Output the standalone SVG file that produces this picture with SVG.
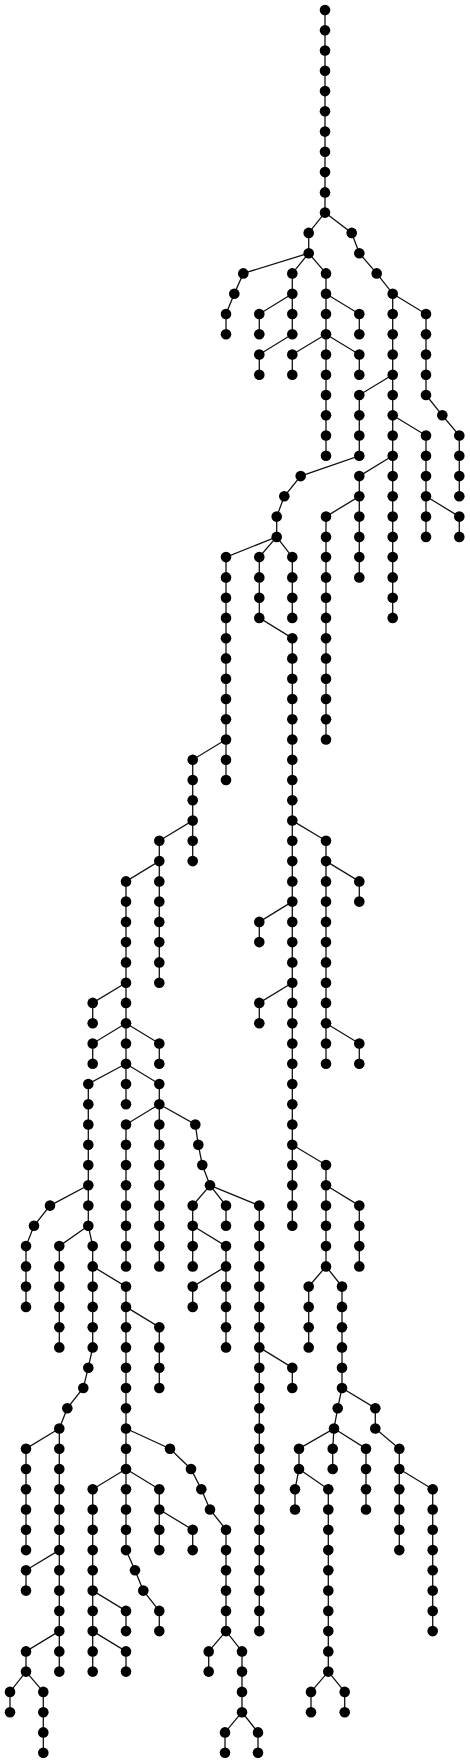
<svg xmlns="http://www.w3.org/2000/svg" width="470" height="1763" viewBox="0 0 470 1763">
<style>
.e path{fill:none;stroke:#111;stroke-width:1.3}
circle{fill:#000}
</style>
<rect width="470" height="1763" fill="#fff"/>
<g id="connectors" class="e">
<path d="M325 10 V212.6 L308.7 232.9 V253.2 L292.3 273.4 V334.2 L259.3 354.5 V374.8"/>
<path d="M308.7 253.2 L243.3 273.4 L234.3 293.7 L226 314 V334.2"/>
<path d="M308.7 253.2 L326 273.4 V455.8"/>
<path d="M292.3 293.7 L259.3 314 V334.2"/>
<path d="M326 293.7 L359.3 314 V334.2"/>
<path d="M326 334.2 L292.3 354.5 V374.8"/>
<path d="M326 334.2 L359.3 354.5 V374.8"/>
<path d="M325 212.6 L351.7 232.9 L359.3 253.2 L376.7 273.4 L392.7 293.7 V617.9"/>
<path d="M392.7 293.7 L426 314 V395 L442.3 415.3 L459.3 435.5 V496.3"/>
<path d="M392.7 374.8 L359.3 395 V455.8 L300.7 476.1 L284.3 496.3 L276.7 516.6 V536.9 L226 557.1 V739.5 L192.7 759.8 V820.6 L159.3 840.8 V861.1 L126 881.4 V1063.7 L88.3 1084 V1185.3"/>
<path d="M392.7 415.3 L426 435.5 V536.9"/>
<path d="M392.7 455.8 L359.3 476.1 V496.3 L326 516.6 V739.5"/>
<path d="M359.3 496.3 V577.4"/>
<path d="M426 496.3 L459.3 516.6 V536.9"/>
<path d="M276.7 536.9 L259.3 557.1 V617.9 L292.3 638.2 V1225.8"/>
<path d="M276.7 536.9 L292.3 557.1 V617.9"/>
<path d="M226 739.5 V780"/>
<path d="M192.7 820.6 V861.1"/>
<path d="M159.3 861.1 V982.7"/>
<path d="M292.3 820.6 L326 840.8 V1063.7"/>
<path d="M326 861.1 L359.3 881.4 V901.6"/>
<path d="M292.3 901.6 L259.3 921.9 V942.1"/>
<path d="M292.3 982.7 L259.3 1002.9 V1023.2"/>
<path d="M326 1023.2 L359.3 1043.5 V1063.7"/>
<path d="M292.3 1144.8 L326 1165 V1266.4 L308.7 1286.6 V1347.4"/>
<path d="M326 1185.3 L359.3 1205.6 V1266.4"/>
<path d="M326 1266.4 L342 1286.6 V1388 L337.7 1408.2 L334 1428.5 L299 1448.7 V1469 L295 1489.3 V1509.5"/>
<path d="M342 1388 L375.3 1408.2 V1428.5 L399.3 1448.7 V1550.1"/>
<path d="M334 1428.5 L332.7 1448.7 V1469"/>
<path d="M334 1428.5 L366 1448.7 V1509.5"/>
<path d="M299 1469 L328.3 1489.3 V1671.6 L311 1691.9 V1712.2"/>
<path d="M328.3 1671.6 L344.7 1691.9 V1712.2"/>
<path d="M399.3 1469 L432.7 1489.3 V1631.1"/>
<path d="M126 982.7 L92.7 1002.9 V1023.2"/>
<path d="M126 1023.2 L92.7 1043.5 V1063.7"/>
<path d="M126 1023.2 L159.3 1043.5 V1063.7"/>
<path d="M126 1063.7 V1104.3"/>
<path d="M126 1063.7 L159.3 1084 V1266.4"/>
<path d="M159.3 1104.3 L126 1124.5 V1266.4"/>
<path d="M159.3 1104.3 L195.3 1124.5 L198.3 1144.8 L202.3 1165 L210 1185.3 L192.7 1205.6 V1266.4"/>
<path d="M210 1185.3 L226 1205.6 V1225.8"/>
<path d="M210 1185.3 L259.3 1205.6 V1631.1"/>
<path d="M192.7 1225.8 L226 1246.1 V1347.4"/>
<path d="M226 1266.4 L192.7 1286.6 V1306.9"/>
<path d="M259.3 1347.4 L292.3 1367.7 V1388"/>
<path d="M88.3 1185.3 L50 1205.6 L34 1225.8 L26 1246.1 V1306.9"/>
<path d="M88.3 1185.3 V1225.8 L92.7 1246.1 V1347.4 L88.3 1367.7 L83.3 1388 L67.3 1408.2 L59.3 1428.5 V1671.6"/>
<path d="M88.3 1225.8 L59.3 1246.1 V1347.4"/>
<path d="M92.7 1266.4 L126 1286.6 V1550.1 L135 1570.3 L143.3 1590.6 L159.3 1610.9 V1631.1"/>
<path d="M126 1306.9 L159.3 1327.2 V1388"/>
<path d="M126 1428.5 L170 1448.7 L191 1469 L201.3 1489.3 L210 1509.5 L226 1529.8 V1631.1 L242 1651.4 V1712.2 L258 1732.4 V1752.7"/>
<path d="M226 1631.1 L208.7 1651.4 V1671.6"/>
<path d="M242 1712.2 L225 1732.4 V1752.7"/>
<path d="M126 1469 L92.7 1489.3 V1671.6"/>
<path d="M126 1469 L159.3 1489.3 V1550.1"/>
<path d="M159.3 1509.5 L192.7 1529.8 V1550.1"/>
<path d="M92.7 1590.6 L126 1610.9 V1631.1"/>
<path d="M92.7 1631.1 L126 1651.4 V1671.6"/>
<path d="M59.3 1428.5 L26 1448.7 V1550.1"/>
<path d="M59.3 1550.1 L26 1570.3 V1590.6"/>
<path d="M59.3 1631.1 L26 1651.4 V1671.6 L10 1691.9 V1712.2"/>
<path d="M26 1671.6 L43.3 1691.9 V1752.7"/>
</g>
<g id="nodes">
<g id="n1"><circle cx="325" cy="10" r="5.3"/></g>
<g id="n2"><circle cx="325" cy="30.3" r="5.3"/></g>
<g id="n3"><circle cx="325" cy="50.5" r="5.3"/></g>
<g id="n4"><circle cx="325" cy="70.8" r="5.3"/></g>
<g id="n5"><circle cx="325" cy="91.1" r="5.3"/></g>
<g id="n6"><circle cx="325" cy="111.3" r="5.3"/></g>
<g id="n7"><circle cx="325" cy="131.6" r="5.3"/></g>
<g id="n8"><circle cx="325" cy="151.8" r="5.3"/></g>
<g id="n9"><circle cx="325" cy="172.1" r="5.3"/></g>
<g id="n10"><circle cx="325" cy="192.4" r="5.3"/></g>
<g id="n11"><circle cx="325" cy="212.6" r="5.3"/></g>
<g id="n12"><circle cx="308.7" cy="232.9" r="5.3"/></g>
<g id="n13"><circle cx="308.7" cy="253.2" r="5.3"/></g>
<g id="n14"><circle cx="292.3" cy="273.4" r="5.3"/></g>
<g id="n15"><circle cx="292.3" cy="293.7" r="5.3"/></g>
<g id="n16"><circle cx="292.3" cy="314" r="5.3"/></g>
<g id="n17"><circle cx="292.3" cy="334.2" r="5.3"/></g>
<g id="n18"><circle cx="259.3" cy="354.5" r="5.3"/></g>
<g id="n19"><circle cx="259.3" cy="374.8" r="5.3"/></g>
<g id="n20"><circle cx="243.3" cy="273.4" r="5.3"/></g>
<g id="n21"><circle cx="234.3" cy="293.7" r="5.3"/></g>
<g id="n22"><circle cx="226" cy="314" r="5.3"/></g>
<g id="n23"><circle cx="226" cy="334.2" r="5.3"/></g>
<g id="n24"><circle cx="326" cy="273.4" r="5.3"/></g>
<g id="n25"><circle cx="326" cy="293.7" r="5.3"/></g>
<g id="n26"><circle cx="326" cy="314" r="5.3"/></g>
<g id="n27"><circle cx="326" cy="334.2" r="5.3"/></g>
<g id="n28"><circle cx="326" cy="354.5" r="5.3"/></g>
<g id="n29"><circle cx="326" cy="374.8" r="5.3"/></g>
<g id="n30"><circle cx="326" cy="395" r="5.3"/></g>
<g id="n31"><circle cx="326" cy="415.3" r="5.3"/></g>
<g id="n32"><circle cx="326" cy="435.5" r="5.3"/></g>
<g id="n33"><circle cx="326" cy="455.8" r="5.3"/></g>
<g id="n34"><circle cx="259.3" cy="314" r="5.3"/></g>
<g id="n35"><circle cx="259.3" cy="334.2" r="5.3"/></g>
<g id="n36"><circle cx="359.3" cy="314" r="5.3"/></g>
<g id="n37"><circle cx="359.3" cy="334.2" r="5.3"/></g>
<g id="n38"><circle cx="292.3" cy="354.5" r="5.3"/></g>
<g id="n39"><circle cx="292.3" cy="374.8" r="5.3"/></g>
<g id="n40"><circle cx="359.3" cy="354.5" r="5.3"/></g>
<g id="n41"><circle cx="359.3" cy="374.8" r="5.3"/></g>
<g id="n42"><circle cx="351.7" cy="232.9" r="5.3"/></g>
<g id="n43"><circle cx="359.3" cy="253.2" r="5.3"/></g>
<g id="n44"><circle cx="376.7" cy="273.4" r="5.3"/></g>
<g id="n45"><circle cx="392.7" cy="293.7" r="5.3"/></g>
<g id="n46"><circle cx="392.7" cy="314" r="5.3"/></g>
<g id="n47"><circle cx="392.7" cy="334.2" r="5.3"/></g>
<g id="n48"><circle cx="392.7" cy="354.5" r="5.3"/></g>
<g id="n49"><circle cx="392.7" cy="374.8" r="5.3"/></g>
<g id="n50"><circle cx="392.7" cy="395" r="5.3"/></g>
<g id="n51"><circle cx="392.7" cy="415.3" r="5.3"/></g>
<g id="n52"><circle cx="392.7" cy="435.5" r="5.3"/></g>
<g id="n53"><circle cx="392.7" cy="455.8" r="5.3"/></g>
<g id="n54"><circle cx="392.7" cy="476.1" r="5.3"/></g>
<g id="n55"><circle cx="392.7" cy="496.3" r="5.3"/></g>
<g id="n56"><circle cx="392.7" cy="516.6" r="5.3"/></g>
<g id="n57"><circle cx="392.7" cy="536.9" r="5.3"/></g>
<g id="n58"><circle cx="392.7" cy="557.1" r="5.3"/></g>
<g id="n59"><circle cx="392.7" cy="577.4" r="5.3"/></g>
<g id="n60"><circle cx="392.7" cy="597.7" r="5.3"/></g>
<g id="n61"><circle cx="392.7" cy="617.9" r="5.3"/></g>
<g id="n62"><circle cx="426" cy="314" r="5.3"/></g>
<g id="n63"><circle cx="426" cy="334.2" r="5.3"/></g>
<g id="n64"><circle cx="426" cy="354.5" r="5.3"/></g>
<g id="n65"><circle cx="426" cy="374.8" r="5.3"/></g>
<g id="n66"><circle cx="426" cy="395" r="5.3"/></g>
<g id="n67"><circle cx="442.3" cy="415.3" r="5.3"/></g>
<g id="n68"><circle cx="459.3" cy="435.5" r="5.3"/></g>
<g id="n69"><circle cx="459.3" cy="455.8" r="5.3"/></g>
<g id="n70"><circle cx="459.3" cy="476.1" r="5.3"/></g>
<g id="n71"><circle cx="459.3" cy="496.3" r="5.3"/></g>
<g id="n72"><circle cx="359.3" cy="395" r="5.3"/></g>
<g id="n73"><circle cx="359.3" cy="415.3" r="5.3"/></g>
<g id="n74"><circle cx="359.3" cy="435.5" r="5.3"/></g>
<g id="n75"><circle cx="359.3" cy="455.8" r="5.3"/></g>
<g id="n76"><circle cx="300.7" cy="476.1" r="5.3"/></g>
<g id="n77"><circle cx="284.3" cy="496.3" r="5.3"/></g>
<g id="n78"><circle cx="276.7" cy="516.6" r="5.3"/></g>
<g id="n79"><circle cx="276.7" cy="536.9" r="5.3"/></g>
<g id="n80"><circle cx="226" cy="557.1" r="5.3"/></g>
<g id="n81"><circle cx="226" cy="577.4" r="5.3"/></g>
<g id="n82"><circle cx="226" cy="597.7" r="5.3"/></g>
<g id="n83"><circle cx="226" cy="617.9" r="5.3"/></g>
<g id="n84"><circle cx="226" cy="638.2" r="5.3"/></g>
<g id="n85"><circle cx="226" cy="658.4" r="5.3"/></g>
<g id="n86"><circle cx="226" cy="678.7" r="5.3"/></g>
<g id="n87"><circle cx="226" cy="699" r="5.3"/></g>
<g id="n88"><circle cx="226" cy="719.2" r="5.3"/></g>
<g id="n89"><circle cx="226" cy="739.5" r="5.3"/></g>
<g id="n90"><circle cx="192.7" cy="759.8" r="5.3"/></g>
<g id="n91"><circle cx="192.7" cy="780" r="5.3"/></g>
<g id="n92"><circle cx="192.7" cy="800.3" r="5.3"/></g>
<g id="n93"><circle cx="192.7" cy="820.6" r="5.3"/></g>
<g id="n94"><circle cx="159.3" cy="840.8" r="5.3"/></g>
<g id="n95"><circle cx="159.3" cy="861.1" r="5.3"/></g>
<g id="n96"><circle cx="126" cy="881.4" r="5.3"/></g>
<g id="n97"><circle cx="126" cy="901.6" r="5.3"/></g>
<g id="n98"><circle cx="126" cy="921.9" r="5.3"/></g>
<g id="n99"><circle cx="126" cy="942.1" r="5.3"/></g>
<g id="n100"><circle cx="126" cy="962.4" r="5.3"/></g>
<g id="n101"><circle cx="126" cy="982.7" r="5.3"/></g>
<g id="n102"><circle cx="126" cy="1002.9" r="5.3"/></g>
<g id="n103"><circle cx="126" cy="1023.2" r="5.3"/></g>
<g id="n104"><circle cx="126" cy="1043.5" r="5.3"/></g>
<g id="n105"><circle cx="126" cy="1063.7" r="5.3"/></g>
<g id="n106"><circle cx="88.3" cy="1084" r="5.3"/></g>
<g id="n107"><circle cx="88.3" cy="1104.3" r="5.3"/></g>
<g id="n108"><circle cx="88.3" cy="1124.5" r="5.3"/></g>
<g id="n109"><circle cx="88.3" cy="1144.8" r="5.3"/></g>
<g id="n110"><circle cx="88.3" cy="1165" r="5.3"/></g>
<g id="n111"><circle cx="88.3" cy="1185.3" r="5.3"/></g>
<g id="n112"><circle cx="426" cy="435.5" r="5.3"/></g>
<g id="n113"><circle cx="426" cy="455.8" r="5.3"/></g>
<g id="n114"><circle cx="426" cy="476.1" r="5.3"/></g>
<g id="n115"><circle cx="426" cy="496.3" r="5.3"/></g>
<g id="n116"><circle cx="426" cy="516.6" r="5.3"/></g>
<g id="n117"><circle cx="426" cy="536.9" r="5.3"/></g>
<g id="n118"><circle cx="359.3" cy="476.1" r="5.3"/></g>
<g id="n119"><circle cx="359.3" cy="496.3" r="5.3"/></g>
<g id="n120"><circle cx="326" cy="516.6" r="5.3"/></g>
<g id="n121"><circle cx="326" cy="536.9" r="5.3"/></g>
<g id="n122"><circle cx="326" cy="557.1" r="5.3"/></g>
<g id="n123"><circle cx="326" cy="577.4" r="5.3"/></g>
<g id="n124"><circle cx="326" cy="597.7" r="5.3"/></g>
<g id="n125"><circle cx="326" cy="617.9" r="5.3"/></g>
<g id="n126"><circle cx="326" cy="638.2" r="5.3"/></g>
<g id="n127"><circle cx="326" cy="658.4" r="5.3"/></g>
<g id="n128"><circle cx="326" cy="678.7" r="5.3"/></g>
<g id="n129"><circle cx="326" cy="699" r="5.3"/></g>
<g id="n130"><circle cx="326" cy="719.2" r="5.3"/></g>
<g id="n131"><circle cx="326" cy="739.5" r="5.3"/></g>
<g id="n132"><circle cx="359.3" cy="516.6" r="5.3"/></g>
<g id="n133"><circle cx="359.3" cy="536.9" r="5.3"/></g>
<g id="n134"><circle cx="359.3" cy="557.1" r="5.3"/></g>
<g id="n135"><circle cx="359.3" cy="577.4" r="5.3"/></g>
<g id="n136"><circle cx="459.3" cy="516.6" r="5.3"/></g>
<g id="n137"><circle cx="459.3" cy="536.9" r="5.3"/></g>
<g id="n138"><circle cx="259.3" cy="557.1" r="5.3"/></g>
<g id="n139"><circle cx="259.3" cy="577.4" r="5.3"/></g>
<g id="n140"><circle cx="259.3" cy="597.7" r="5.3"/></g>
<g id="n141"><circle cx="259.3" cy="617.9" r="5.3"/></g>
<g id="n142"><circle cx="292.3" cy="638.2" r="5.3"/></g>
<g id="n143"><circle cx="292.3" cy="658.4" r="5.3"/></g>
<g id="n144"><circle cx="292.3" cy="678.7" r="5.3"/></g>
<g id="n145"><circle cx="292.3" cy="699" r="5.3"/></g>
<g id="n146"><circle cx="292.3" cy="719.2" r="5.3"/></g>
<g id="n147"><circle cx="292.3" cy="739.5" r="5.3"/></g>
<g id="n148"><circle cx="292.3" cy="759.8" r="5.3"/></g>
<g id="n149"><circle cx="292.3" cy="780" r="5.3"/></g>
<g id="n150"><circle cx="292.3" cy="800.3" r="5.3"/></g>
<g id="n151"><circle cx="292.3" cy="820.6" r="5.3"/></g>
<g id="n152"><circle cx="292.3" cy="840.8" r="5.3"/></g>
<g id="n153"><circle cx="292.3" cy="861.1" r="5.3"/></g>
<g id="n154"><circle cx="292.3" cy="881.4" r="5.3"/></g>
<g id="n155"><circle cx="292.3" cy="901.6" r="5.3"/></g>
<g id="n156"><circle cx="292.3" cy="921.9" r="5.3"/></g>
<g id="n157"><circle cx="292.3" cy="942.1" r="5.3"/></g>
<g id="n158"><circle cx="292.3" cy="962.4" r="5.3"/></g>
<g id="n159"><circle cx="292.3" cy="982.7" r="5.3"/></g>
<g id="n160"><circle cx="292.3" cy="1002.9" r="5.3"/></g>
<g id="n161"><circle cx="292.3" cy="1023.2" r="5.3"/></g>
<g id="n162"><circle cx="292.3" cy="1043.5" r="5.3"/></g>
<g id="n163"><circle cx="292.3" cy="1063.7" r="5.3"/></g>
<g id="n164"><circle cx="292.3" cy="1084" r="5.3"/></g>
<g id="n165"><circle cx="292.3" cy="1104.3" r="5.3"/></g>
<g id="n166"><circle cx="292.3" cy="1124.5" r="5.3"/></g>
<g id="n167"><circle cx="292.3" cy="1144.8" r="5.3"/></g>
<g id="n168"><circle cx="292.3" cy="1165" r="5.3"/></g>
<g id="n169"><circle cx="292.3" cy="1185.3" r="5.3"/></g>
<g id="n170"><circle cx="292.3" cy="1205.6" r="5.3"/></g>
<g id="n171"><circle cx="292.3" cy="1225.8" r="5.3"/></g>
<g id="n172"><circle cx="292.3" cy="557.1" r="5.3"/></g>
<g id="n173"><circle cx="292.3" cy="577.4" r="5.3"/></g>
<g id="n174"><circle cx="292.3" cy="597.7" r="5.3"/></g>
<g id="n175"><circle cx="292.3" cy="617.9" r="5.3"/></g>
<g id="n176"><circle cx="226" cy="759.8" r="5.3"/></g>
<g id="n177"><circle cx="226" cy="780" r="5.3"/></g>
<g id="n178"><circle cx="192.7" cy="840.8" r="5.3"/></g>
<g id="n179"><circle cx="192.7" cy="861.1" r="5.3"/></g>
<g id="n180"><circle cx="159.3" cy="881.4" r="5.3"/></g>
<g id="n181"><circle cx="159.3" cy="901.6" r="5.3"/></g>
<g id="n182"><circle cx="159.3" cy="921.9" r="5.3"/></g>
<g id="n183"><circle cx="159.3" cy="942.1" r="5.3"/></g>
<g id="n184"><circle cx="159.3" cy="962.4" r="5.3"/></g>
<g id="n185"><circle cx="159.3" cy="982.7" r="5.3"/></g>
<g id="n186"><circle cx="326" cy="840.8" r="5.3"/></g>
<g id="n187"><circle cx="326" cy="861.1" r="5.3"/></g>
<g id="n188"><circle cx="326" cy="881.4" r="5.3"/></g>
<g id="n189"><circle cx="326" cy="901.6" r="5.3"/></g>
<g id="n190"><circle cx="326" cy="921.9" r="5.3"/></g>
<g id="n191"><circle cx="326" cy="942.1" r="5.3"/></g>
<g id="n192"><circle cx="326" cy="962.4" r="5.3"/></g>
<g id="n193"><circle cx="326" cy="982.7" r="5.3"/></g>
<g id="n194"><circle cx="326" cy="1002.9" r="5.3"/></g>
<g id="n195"><circle cx="326" cy="1023.2" r="5.3"/></g>
<g id="n196"><circle cx="326" cy="1043.5" r="5.3"/></g>
<g id="n197"><circle cx="326" cy="1063.7" r="5.3"/></g>
<g id="n198"><circle cx="359.3" cy="881.4" r="5.3"/></g>
<g id="n199"><circle cx="359.3" cy="901.6" r="5.3"/></g>
<g id="n200"><circle cx="259.3" cy="921.9" r="5.3"/></g>
<g id="n201"><circle cx="259.3" cy="942.1" r="5.3"/></g>
<g id="n202"><circle cx="259.3" cy="1002.9" r="5.3"/></g>
<g id="n203"><circle cx="259.3" cy="1023.2" r="5.3"/></g>
<g id="n204"><circle cx="359.3" cy="1043.5" r="5.3"/></g>
<g id="n205"><circle cx="359.3" cy="1063.7" r="5.3"/></g>
<g id="n206"><circle cx="326" cy="1165" r="5.3"/></g>
<g id="n207"><circle cx="326" cy="1185.3" r="5.3"/></g>
<g id="n208"><circle cx="326" cy="1205.6" r="5.3"/></g>
<g id="n209"><circle cx="326" cy="1225.8" r="5.3"/></g>
<g id="n210"><circle cx="326" cy="1246.1" r="5.3"/></g>
<g id="n211"><circle cx="326" cy="1266.4" r="5.3"/></g>
<g id="n212"><circle cx="308.7" cy="1286.6" r="5.3"/></g>
<g id="n213"><circle cx="308.7" cy="1306.9" r="5.3"/></g>
<g id="n214"><circle cx="308.7" cy="1327.2" r="5.3"/></g>
<g id="n215"><circle cx="308.7" cy="1347.4" r="5.3"/></g>
<g id="n216"><circle cx="359.3" cy="1205.6" r="5.3"/></g>
<g id="n217"><circle cx="359.3" cy="1225.8" r="5.3"/></g>
<g id="n218"><circle cx="359.3" cy="1246.1" r="5.3"/></g>
<g id="n219"><circle cx="359.3" cy="1266.4" r="5.3"/></g>
<g id="n220"><circle cx="342" cy="1286.6" r="5.3"/></g>
<g id="n221"><circle cx="342" cy="1306.9" r="5.3"/></g>
<g id="n222"><circle cx="342" cy="1327.2" r="5.3"/></g>
<g id="n223"><circle cx="342" cy="1347.4" r="5.3"/></g>
<g id="n224"><circle cx="342" cy="1367.7" r="5.3"/></g>
<g id="n225"><circle cx="342" cy="1388" r="5.3"/></g>
<g id="n226"><circle cx="337.7" cy="1408.2" r="5.3"/></g>
<g id="n227"><circle cx="334" cy="1428.5" r="5.3"/></g>
<g id="n228"><circle cx="299" cy="1448.7" r="5.3"/></g>
<g id="n229"><circle cx="299" cy="1469" r="5.3"/></g>
<g id="n230"><circle cx="295" cy="1489.3" r="5.3"/></g>
<g id="n231"><circle cx="295" cy="1509.5" r="5.3"/></g>
<g id="n232"><circle cx="375.3" cy="1408.2" r="5.3"/></g>
<g id="n233"><circle cx="375.3" cy="1428.5" r="5.3"/></g>
<g id="n234"><circle cx="399.3" cy="1448.7" r="5.3"/></g>
<g id="n235"><circle cx="399.3" cy="1469" r="5.3"/></g>
<g id="n236"><circle cx="399.3" cy="1489.3" r="5.3"/></g>
<g id="n237"><circle cx="399.3" cy="1509.5" r="5.3"/></g>
<g id="n238"><circle cx="399.3" cy="1529.8" r="5.3"/></g>
<g id="n239"><circle cx="399.3" cy="1550.1" r="5.3"/></g>
<g id="n240"><circle cx="332.7" cy="1448.7" r="5.3"/></g>
<g id="n241"><circle cx="332.7" cy="1469" r="5.3"/></g>
<g id="n242"><circle cx="366" cy="1448.7" r="5.3"/></g>
<g id="n243"><circle cx="366" cy="1469" r="5.3"/></g>
<g id="n244"><circle cx="366" cy="1489.3" r="5.3"/></g>
<g id="n245"><circle cx="366" cy="1509.5" r="5.3"/></g>
<g id="n246"><circle cx="328.3" cy="1489.3" r="5.3"/></g>
<g id="n247"><circle cx="328.3" cy="1509.5" r="5.3"/></g>
<g id="n248"><circle cx="328.3" cy="1529.8" r="5.3"/></g>
<g id="n249"><circle cx="328.3" cy="1550.1" r="5.3"/></g>
<g id="n250"><circle cx="328.3" cy="1570.3" r="5.3"/></g>
<g id="n251"><circle cx="328.3" cy="1590.6" r="5.3"/></g>
<g id="n252"><circle cx="328.3" cy="1610.9" r="5.3"/></g>
<g id="n253"><circle cx="328.3" cy="1631.1" r="5.3"/></g>
<g id="n254"><circle cx="328.3" cy="1651.4" r="5.3"/></g>
<g id="n255"><circle cx="328.3" cy="1671.6" r="5.3"/></g>
<g id="n256"><circle cx="311" cy="1691.9" r="5.3"/></g>
<g id="n257"><circle cx="311" cy="1712.2" r="5.3"/></g>
<g id="n258"><circle cx="344.7" cy="1691.9" r="5.3"/></g>
<g id="n259"><circle cx="344.7" cy="1712.2" r="5.3"/></g>
<g id="n260"><circle cx="432.7" cy="1489.3" r="5.3"/></g>
<g id="n261"><circle cx="432.7" cy="1509.5" r="5.3"/></g>
<g id="n262"><circle cx="432.7" cy="1529.8" r="5.3"/></g>
<g id="n263"><circle cx="432.7" cy="1550.1" r="5.3"/></g>
<g id="n264"><circle cx="432.7" cy="1570.3" r="5.3"/></g>
<g id="n265"><circle cx="432.7" cy="1590.6" r="5.3"/></g>
<g id="n266"><circle cx="432.7" cy="1610.9" r="5.3"/></g>
<g id="n267"><circle cx="432.7" cy="1631.1" r="5.3"/></g>
<g id="n268"><circle cx="92.7" cy="1002.9" r="5.3"/></g>
<g id="n269"><circle cx="92.7" cy="1023.2" r="5.3"/></g>
<g id="n270"><circle cx="92.7" cy="1043.5" r="5.3"/></g>
<g id="n271"><circle cx="92.7" cy="1063.7" r="5.3"/></g>
<g id="n272"><circle cx="159.3" cy="1043.5" r="5.3"/></g>
<g id="n273"><circle cx="159.3" cy="1063.7" r="5.3"/></g>
<g id="n274"><circle cx="126" cy="1084" r="5.3"/></g>
<g id="n275"><circle cx="126" cy="1104.3" r="5.3"/></g>
<g id="n276"><circle cx="159.3" cy="1084" r="5.3"/></g>
<g id="n277"><circle cx="159.3" cy="1104.3" r="5.3"/></g>
<g id="n278"><circle cx="159.3" cy="1124.5" r="5.3"/></g>
<g id="n279"><circle cx="159.3" cy="1144.8" r="5.3"/></g>
<g id="n280"><circle cx="159.3" cy="1165" r="5.3"/></g>
<g id="n281"><circle cx="159.3" cy="1185.3" r="5.3"/></g>
<g id="n282"><circle cx="159.3" cy="1205.6" r="5.3"/></g>
<g id="n283"><circle cx="159.3" cy="1225.8" r="5.3"/></g>
<g id="n284"><circle cx="159.3" cy="1246.1" r="5.3"/></g>
<g id="n285"><circle cx="159.3" cy="1266.4" r="5.3"/></g>
<g id="n286"><circle cx="126" cy="1124.5" r="5.3"/></g>
<g id="n287"><circle cx="126" cy="1144.8" r="5.3"/></g>
<g id="n288"><circle cx="126" cy="1165" r="5.3"/></g>
<g id="n289"><circle cx="126" cy="1185.3" r="5.3"/></g>
<g id="n290"><circle cx="126" cy="1205.6" r="5.3"/></g>
<g id="n291"><circle cx="126" cy="1225.8" r="5.3"/></g>
<g id="n292"><circle cx="126" cy="1246.1" r="5.3"/></g>
<g id="n293"><circle cx="126" cy="1266.4" r="5.3"/></g>
<g id="n294"><circle cx="195.3" cy="1124.5" r="5.3"/></g>
<g id="n295"><circle cx="198.3" cy="1144.8" r="5.3"/></g>
<g id="n296"><circle cx="202.3" cy="1165" r="5.3"/></g>
<g id="n297"><circle cx="210" cy="1185.3" r="5.3"/></g>
<g id="n298"><circle cx="192.7" cy="1205.6" r="5.3"/></g>
<g id="n299"><circle cx="192.7" cy="1225.8" r="5.3"/></g>
<g id="n300"><circle cx="192.7" cy="1246.1" r="5.3"/></g>
<g id="n301"><circle cx="192.7" cy="1266.4" r="5.3"/></g>
<g id="n302"><circle cx="226" cy="1205.6" r="5.3"/></g>
<g id="n303"><circle cx="226" cy="1225.8" r="5.3"/></g>
<g id="n304"><circle cx="259.3" cy="1205.6" r="5.3"/></g>
<g id="n305"><circle cx="259.3" cy="1225.8" r="5.3"/></g>
<g id="n306"><circle cx="259.3" cy="1246.1" r="5.3"/></g>
<g id="n307"><circle cx="259.3" cy="1266.4" r="5.3"/></g>
<g id="n308"><circle cx="259.3" cy="1286.6" r="5.3"/></g>
<g id="n309"><circle cx="259.3" cy="1306.9" r="5.3"/></g>
<g id="n310"><circle cx="259.3" cy="1327.2" r="5.3"/></g>
<g id="n311"><circle cx="259.3" cy="1347.4" r="5.3"/></g>
<g id="n312"><circle cx="259.3" cy="1367.7" r="5.3"/></g>
<g id="n313"><circle cx="259.3" cy="1388" r="5.3"/></g>
<g id="n314"><circle cx="259.3" cy="1408.2" r="5.3"/></g>
<g id="n315"><circle cx="259.3" cy="1428.5" r="5.3"/></g>
<g id="n316"><circle cx="259.3" cy="1448.7" r="5.3"/></g>
<g id="n317"><circle cx="259.3" cy="1469" r="5.3"/></g>
<g id="n318"><circle cx="259.3" cy="1489.3" r="5.3"/></g>
<g id="n319"><circle cx="259.3" cy="1509.5" r="5.3"/></g>
<g id="n320"><circle cx="259.3" cy="1529.8" r="5.3"/></g>
<g id="n321"><circle cx="259.3" cy="1550.1" r="5.3"/></g>
<g id="n322"><circle cx="259.3" cy="1570.3" r="5.3"/></g>
<g id="n323"><circle cx="259.3" cy="1590.6" r="5.3"/></g>
<g id="n324"><circle cx="259.3" cy="1610.9" r="5.3"/></g>
<g id="n325"><circle cx="259.3" cy="1631.1" r="5.3"/></g>
<g id="n326"><circle cx="226" cy="1246.1" r="5.3"/></g>
<g id="n327"><circle cx="226" cy="1266.4" r="5.3"/></g>
<g id="n328"><circle cx="226" cy="1286.6" r="5.3"/></g>
<g id="n329"><circle cx="226" cy="1306.9" r="5.3"/></g>
<g id="n330"><circle cx="226" cy="1327.2" r="5.3"/></g>
<g id="n331"><circle cx="226" cy="1347.4" r="5.3"/></g>
<g id="n332"><circle cx="192.7" cy="1286.6" r="5.3"/></g>
<g id="n333"><circle cx="192.7" cy="1306.9" r="5.3"/></g>
<g id="n334"><circle cx="292.3" cy="1367.7" r="5.3"/></g>
<g id="n335"><circle cx="292.3" cy="1388" r="5.3"/></g>
<g id="n336"><circle cx="50" cy="1205.6" r="5.3"/></g>
<g id="n337"><circle cx="34" cy="1225.8" r="5.3"/></g>
<g id="n338"><circle cx="26" cy="1246.1" r="5.3"/></g>
<g id="n339"><circle cx="26" cy="1266.4" r="5.3"/></g>
<g id="n340"><circle cx="26" cy="1286.6" r="5.3"/></g>
<g id="n341"><circle cx="26" cy="1306.9" r="5.3"/></g>
<g id="n342"><circle cx="88.3" cy="1205.6" r="5.3"/></g>
<g id="n343"><circle cx="88.3" cy="1225.8" r="5.3"/></g>
<g id="n344"><circle cx="92.7" cy="1246.1" r="5.3"/></g>
<g id="n345"><circle cx="92.7" cy="1266.4" r="5.3"/></g>
<g id="n346"><circle cx="92.7" cy="1286.6" r="5.3"/></g>
<g id="n347"><circle cx="92.7" cy="1306.9" r="5.3"/></g>
<g id="n348"><circle cx="92.7" cy="1327.2" r="5.3"/></g>
<g id="n349"><circle cx="92.7" cy="1347.4" r="5.3"/></g>
<g id="n350"><circle cx="88.3" cy="1367.7" r="5.3"/></g>
<g id="n351"><circle cx="83.3" cy="1388" r="5.3"/></g>
<g id="n352"><circle cx="67.3" cy="1408.2" r="5.3"/></g>
<g id="n353"><circle cx="59.3" cy="1428.5" r="5.3"/></g>
<g id="n354"><circle cx="59.3" cy="1448.7" r="5.3"/></g>
<g id="n355"><circle cx="59.3" cy="1469" r="5.3"/></g>
<g id="n356"><circle cx="59.3" cy="1489.3" r="5.3"/></g>
<g id="n357"><circle cx="59.3" cy="1509.5" r="5.3"/></g>
<g id="n358"><circle cx="59.3" cy="1529.8" r="5.3"/></g>
<g id="n359"><circle cx="59.3" cy="1550.1" r="5.3"/></g>
<g id="n360"><circle cx="59.3" cy="1570.3" r="5.3"/></g>
<g id="n361"><circle cx="59.3" cy="1590.6" r="5.3"/></g>
<g id="n362"><circle cx="59.3" cy="1610.9" r="5.3"/></g>
<g id="n363"><circle cx="59.3" cy="1631.1" r="5.3"/></g>
<g id="n364"><circle cx="59.3" cy="1651.4" r="5.3"/></g>
<g id="n365"><circle cx="59.3" cy="1671.6" r="5.3"/></g>
<g id="n366"><circle cx="59.3" cy="1246.1" r="5.3"/></g>
<g id="n367"><circle cx="59.3" cy="1266.4" r="5.3"/></g>
<g id="n368"><circle cx="59.3" cy="1286.6" r="5.3"/></g>
<g id="n369"><circle cx="59.3" cy="1306.9" r="5.3"/></g>
<g id="n370"><circle cx="59.3" cy="1327.2" r="5.3"/></g>
<g id="n371"><circle cx="59.3" cy="1347.4" r="5.3"/></g>
<g id="n372"><circle cx="126" cy="1286.6" r="5.3"/></g>
<g id="n373"><circle cx="126" cy="1306.9" r="5.3"/></g>
<g id="n374"><circle cx="126" cy="1327.2" r="5.3"/></g>
<g id="n375"><circle cx="126" cy="1347.4" r="5.3"/></g>
<g id="n376"><circle cx="126" cy="1367.7" r="5.3"/></g>
<g id="n377"><circle cx="126" cy="1388" r="5.3"/></g>
<g id="n378"><circle cx="126" cy="1408.2" r="5.3"/></g>
<g id="n379"><circle cx="126" cy="1428.5" r="5.3"/></g>
<g id="n380"><circle cx="126" cy="1448.7" r="5.3"/></g>
<g id="n381"><circle cx="126" cy="1469" r="5.3"/></g>
<g id="n382"><circle cx="126" cy="1489.3" r="5.3"/></g>
<g id="n383"><circle cx="126" cy="1509.5" r="5.3"/></g>
<g id="n384"><circle cx="126" cy="1529.8" r="5.3"/></g>
<g id="n385"><circle cx="126" cy="1550.1" r="5.3"/></g>
<g id="n386"><circle cx="135" cy="1570.3" r="5.3"/></g>
<g id="n387"><circle cx="143.3" cy="1590.6" r="5.3"/></g>
<g id="n388"><circle cx="159.3" cy="1610.9" r="5.3"/></g>
<g id="n389"><circle cx="159.3" cy="1631.1" r="5.3"/></g>
<g id="n390"><circle cx="159.3" cy="1327.2" r="5.3"/></g>
<g id="n391"><circle cx="159.3" cy="1347.4" r="5.3"/></g>
<g id="n392"><circle cx="159.3" cy="1367.7" r="5.3"/></g>
<g id="n393"><circle cx="159.3" cy="1388" r="5.3"/></g>
<g id="n394"><circle cx="170" cy="1448.7" r="5.3"/></g>
<g id="n395"><circle cx="191" cy="1469" r="5.3"/></g>
<g id="n396"><circle cx="201.3" cy="1489.3" r="5.3"/></g>
<g id="n397"><circle cx="210" cy="1509.5" r="5.3"/></g>
<g id="n398"><circle cx="226" cy="1529.8" r="5.3"/></g>
<g id="n399"><circle cx="226" cy="1550.1" r="5.3"/></g>
<g id="n400"><circle cx="226" cy="1570.3" r="5.3"/></g>
<g id="n401"><circle cx="226" cy="1590.6" r="5.3"/></g>
<g id="n402"><circle cx="226" cy="1610.9" r="5.3"/></g>
<g id="n403"><circle cx="226" cy="1631.1" r="5.3"/></g>
<g id="n404"><circle cx="242" cy="1651.4" r="5.3"/></g>
<g id="n405"><circle cx="242" cy="1671.6" r="5.3"/></g>
<g id="n406"><circle cx="242" cy="1691.9" r="5.3"/></g>
<g id="n407"><circle cx="242" cy="1712.2" r="5.3"/></g>
<g id="n408"><circle cx="258" cy="1732.4" r="5.3"/></g>
<g id="n409"><circle cx="258" cy="1752.7" r="5.3"/></g>
<g id="n410"><circle cx="208.7" cy="1651.4" r="5.3"/></g>
<g id="n411"><circle cx="208.7" cy="1671.6" r="5.3"/></g>
<g id="n412"><circle cx="225" cy="1732.4" r="5.3"/></g>
<g id="n413"><circle cx="225" cy="1752.7" r="5.3"/></g>
<g id="n414"><circle cx="92.7" cy="1489.3" r="5.3"/></g>
<g id="n415"><circle cx="92.7" cy="1509.5" r="5.3"/></g>
<g id="n416"><circle cx="92.7" cy="1529.8" r="5.3"/></g>
<g id="n417"><circle cx="92.7" cy="1550.1" r="5.3"/></g>
<g id="n418"><circle cx="92.7" cy="1570.3" r="5.3"/></g>
<g id="n419"><circle cx="92.7" cy="1590.6" r="5.3"/></g>
<g id="n420"><circle cx="92.7" cy="1610.9" r="5.3"/></g>
<g id="n421"><circle cx="92.7" cy="1631.1" r="5.3"/></g>
<g id="n422"><circle cx="92.7" cy="1651.4" r="5.3"/></g>
<g id="n423"><circle cx="92.7" cy="1671.6" r="5.3"/></g>
<g id="n424"><circle cx="159.3" cy="1489.3" r="5.3"/></g>
<g id="n425"><circle cx="159.3" cy="1509.5" r="5.3"/></g>
<g id="n426"><circle cx="159.3" cy="1529.8" r="5.3"/></g>
<g id="n427"><circle cx="159.3" cy="1550.1" r="5.3"/></g>
<g id="n428"><circle cx="192.7" cy="1529.8" r="5.3"/></g>
<g id="n429"><circle cx="192.7" cy="1550.1" r="5.3"/></g>
<g id="n430"><circle cx="126" cy="1610.9" r="5.3"/></g>
<g id="n431"><circle cx="126" cy="1631.1" r="5.3"/></g>
<g id="n432"><circle cx="126" cy="1651.4" r="5.3"/></g>
<g id="n433"><circle cx="126" cy="1671.6" r="5.3"/></g>
<g id="n434"><circle cx="26" cy="1448.7" r="5.3"/></g>
<g id="n435"><circle cx="26" cy="1469" r="5.3"/></g>
<g id="n436"><circle cx="26" cy="1489.3" r="5.3"/></g>
<g id="n437"><circle cx="26" cy="1509.5" r="5.3"/></g>
<g id="n438"><circle cx="26" cy="1529.8" r="5.3"/></g>
<g id="n439"><circle cx="26" cy="1550.1" r="5.3"/></g>
<g id="n440"><circle cx="26" cy="1570.3" r="5.3"/></g>
<g id="n441"><circle cx="26" cy="1590.6" r="5.3"/></g>
<g id="n442"><circle cx="26" cy="1651.4" r="5.3"/></g>
<g id="n443"><circle cx="26" cy="1671.6" r="5.3"/></g>
<g id="n444"><circle cx="10" cy="1691.9" r="5.3"/></g>
<g id="n445"><circle cx="10" cy="1712.2" r="5.3"/></g>
<g id="n446"><circle cx="43.3" cy="1691.9" r="5.3"/></g>
<g id="n447"><circle cx="43.3" cy="1712.2" r="5.3"/></g>
<g id="n448"><circle cx="43.3" cy="1732.4" r="5.3"/></g>
<g id="n449"><circle cx="43.3" cy="1752.7" r="5.3"/></g>
</g>
</svg>
